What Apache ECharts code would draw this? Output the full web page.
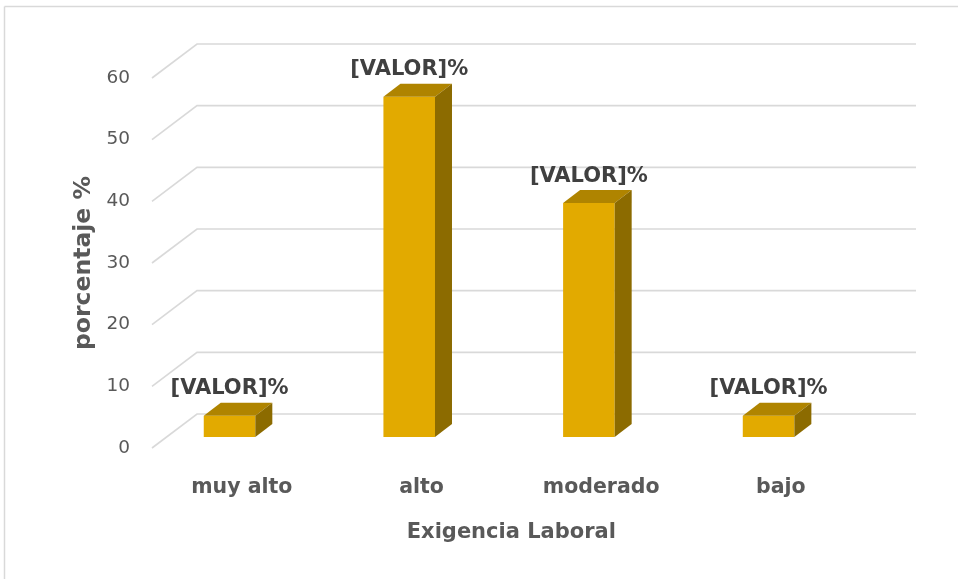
<!DOCTYPE html>
<html>
<head>
<meta charset="utf-8">
<script src="https://cdn.jsdelivr.net/npm/echarts@6/dist/echarts.min.js"></script>
<style>
html,body{margin:0;padding:0;background:#fff;}
#chart{width:958px;height:579px;}
</style>
</head>
<body>
<div id="chart"></div>
<script>
// ---- data ----
const categories = ['muy alto', 'alto', 'moderado', 'bajo'];
const values = [3.45, 55.17, 37.93, 3.45];
const labelText = '[VALOR]%';
const yTicks = [0, 10, 20, 30, 40, 50, 60];
const yTitle = 'porcentaje %';
const xTitle = 'Exigencia Laboral';

// ---- styling ----
const FONT = '"DejaVu Sans", sans-serif';
const FRONT = '#E2AA00';
const TOP = '#AF8400';
const SIDE = '#8C6B00';
const GRID_COLOR = '#D9D9D9';
const DEPTH_DX = 17, DEPTH_DY = 13;        // bar depth
const WALL_DX = 45, WALL_DY = 34;          // floor depth for gridlines
const BAR_RATIO = 0.287;

const chart = echarts.init(document.getElementById('chart'), null, {renderer: 'canvas'});

const option = {
  animation: false,
  backgroundColor: '#ffffff',
  graphic: [
    {
      type: 'line', silent: true,
      shape: {x1: 4.5, y1: 6.5, x2: 4.5, y2: 600},
      style: {stroke: GRID_COLOR, lineWidth: 1.5}
    },
    {
      type: 'line', silent: true,
      shape: {x1: 4.5, y1: 6.5, x2: 970, y2: 6.5},
      style: {stroke: GRID_COLOR, lineWidth: 1.5}
    }
  ],
  grid: [
    // bar plane
    {left: 139.7, width: 718.7, top: 67, height: 370},
    // front plane (axis labels)
    {left: 152, width: 718.7, top: 78, height: 370}
  ],
  xAxis: [
    {gridIndex: 0, type: 'category', data: categories, show: false},
    {
      gridIndex: 1, type: 'category', data: categories,
      axisLine: {show: false}, axisTick: {show: false},
      axisLabel: {color: '#595959', fontFamily: FONT, fontWeight: 'bold', fontSize: 20.5, margin: 29},
      name: xTitle, nameLocation: 'middle', nameGap: 74,
      nameTextStyle: {color: '#595959', fontFamily: FONT, fontWeight: 'bold', fontSize: 21}
    }
  ],
  yAxis: [
    {gridIndex: 0, type: 'value', min: 0, max: 60, interval: 10, show: false},
    {
      gridIndex: 1, type: 'value', min: 0, max: 60, interval: 10,
      axisLine: {show: false}, axisTick: {show: false}, splitLine: {show: false},
      axisLabel: {color: '#595959', fontFamily: FONT, fontSize: 18.5, margin: 22},
      name: yTitle, nameLocation: 'middle', nameGap: 56, nameRotate: 90,
      nameTextStyle: {color: '#595959', fontFamily: FONT, fontWeight: 'bold', fontSize: 23.5}
    }
  ],
  series: [
    {
      // perspective gridlines
      type: 'custom',
      xAxisIndex: 1, yAxisIndex: 1,
      z: 1,
      silent: true,
      data: yTicks.map(v => [0, v]),
      renderItem: function (params, api) {
        const cs = params.coordSys;
        const y = api.coord([api.value(0), api.value(1)])[1];
        const x0 = cs.x;
        const x1 = x0 + WALL_DX;
        const x2 = cs.x + 764;
        return {
          type: 'polyline',
          shape: {points: [[x0, y], [x1, y - WALL_DY], [x2, y - WALL_DY]]},
          style: {stroke: GRID_COLOR, lineWidth: 1.6, fill: null}
        };
      }
    },
    {
      // 3D bars
      type: 'custom',
      xAxisIndex: 0, yAxisIndex: 0,
      z: 5,
      data: values.map((v, i) => [i, v]),
      renderItem: function (params, api) {
        const ci = api.value(0);
        const v = api.value(1);
        const pTop = api.coord([ci, v]);
        const pBot = api.coord([ci, 0]);
        const w = api.size([1, 0])[0] * BAR_RATIO;
        const xl = pTop[0] - w / 2, xr = pTop[0] + w / 2;
        const yt = pTop[1], yb = pBot[1];
        return {
          type: 'group',
          children: [
            {
              type: 'rect',
              shape: {x: xl, y: yt, width: w, height: yb - yt},
              style: {fill: FRONT}
            },
            {
              type: 'polygon',
              shape: {points: [[xl, yt], [xl + DEPTH_DX, yt - DEPTH_DY], [xr + DEPTH_DX, yt - DEPTH_DY], [xr, yt]]},
              style: {fill: TOP}
            },
            {
              type: 'polygon',
              shape: {points: [[xr, yt], [xr + DEPTH_DX, yt - DEPTH_DY], [xr + DEPTH_DX, yb - DEPTH_DY], [xr, yb]]},
              style: {fill: SIDE}
            },
            {
              type: 'text',
              style: {
                x: pTop[0], y: yt - 27,
                text: labelText,
                fill: '#404040',
                font: 'bold 21px ' + FONT,
                textAlign: 'center', textVerticalAlign: 'middle'
              }
            }
          ]
        };
      }
    }
  ]
};
chart.setOption(option);
</script>
</body>
</html>
